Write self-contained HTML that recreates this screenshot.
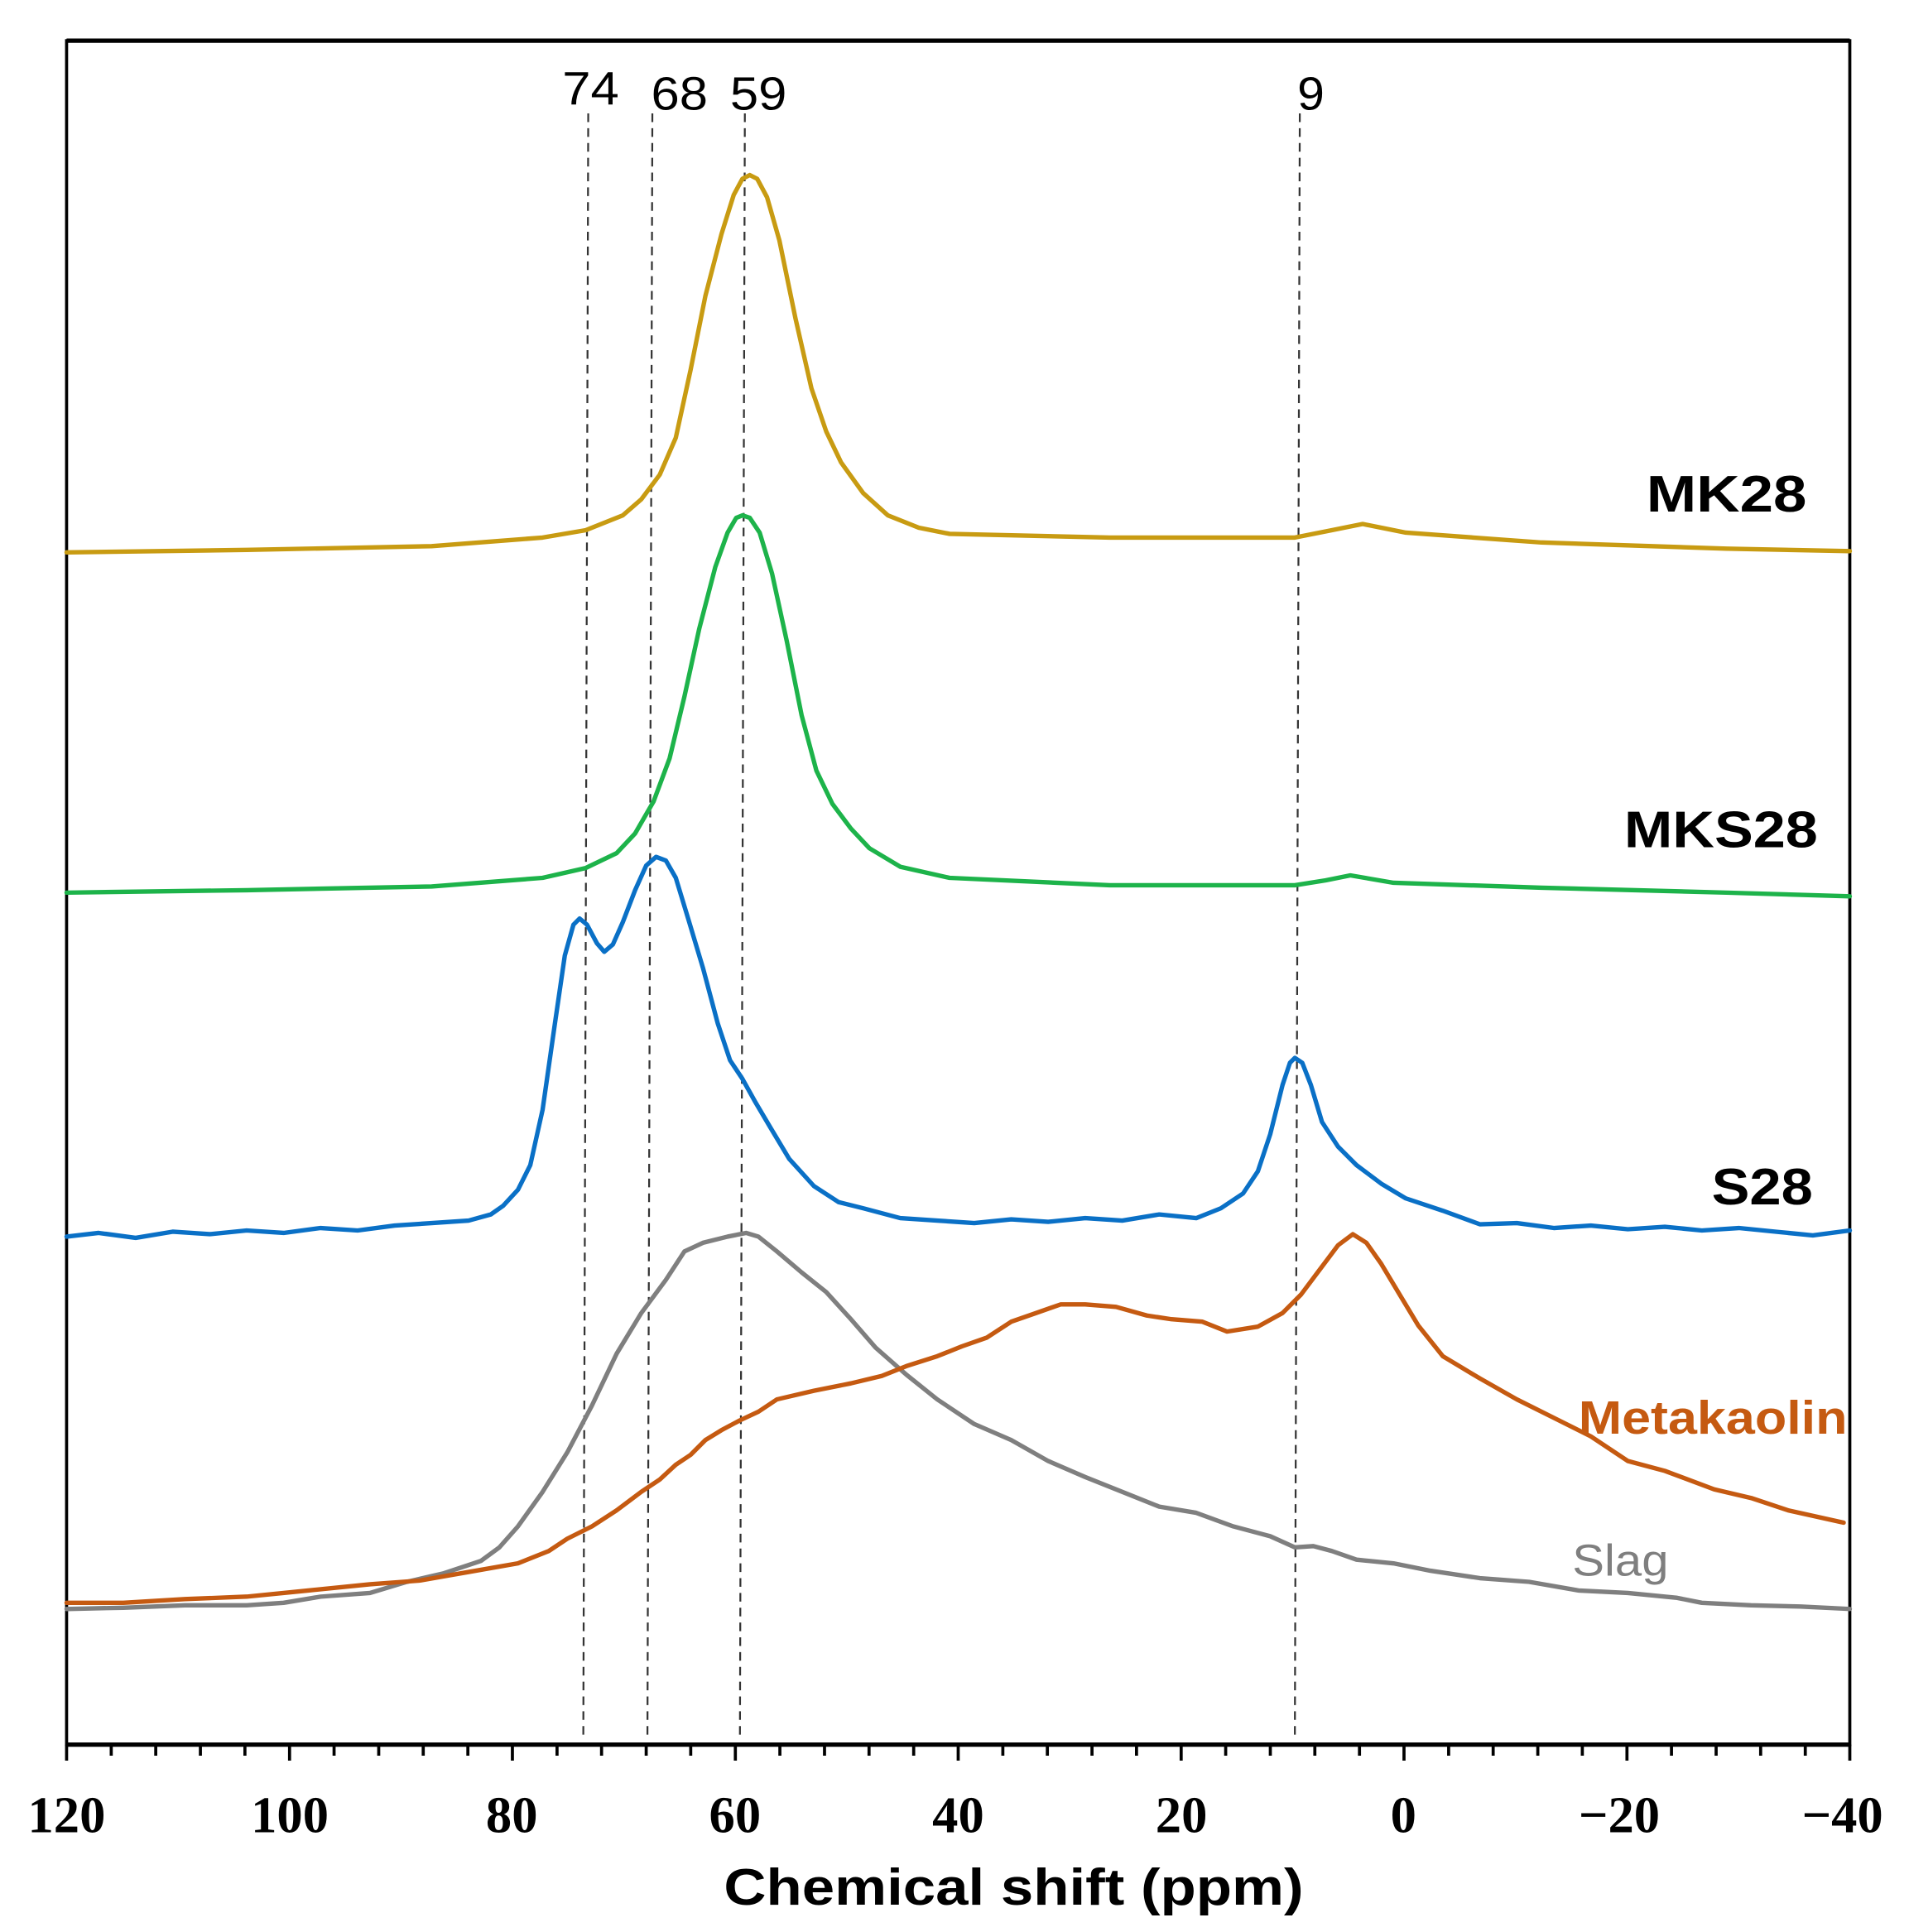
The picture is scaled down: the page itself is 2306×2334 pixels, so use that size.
<!DOCTYPE html>
<html><head><meta charset="utf-8"><style>
html,body{margin:0;padding:0;background:#fff;}
svg{display:block;}
</style></head><body>
<svg width="2306" height="2334" viewBox="0 0 1548 1567" preserveAspectRatio="none" xmlns="http://www.w3.org/2000/svg">
<rect x="0" y="0" width="1548" height="1567" fill="#fff"/>
<rect x="54" y="33" width="1446" height="1382" fill="none" stroke="#000" stroke-width="2.5"/>
<line x1="54" y1="33" x2="1500" y2="33" stroke="#000" stroke-width="3.5"/>
<line x1="54" y1="1415" x2="1500" y2="1415" stroke="#000" stroke-width="3.5"/>
<g stroke="#000" stroke-width="2.5">
<line x1="54" y1="1415" x2="54" y2="1428"/><line x1="90.2" y1="1415" x2="90.2" y2="1424"/><line x1="126.3" y1="1415" x2="126.3" y2="1424"/><line x1="162.5" y1="1415" x2="162.5" y2="1424"/><line x1="198.6" y1="1415" x2="198.6" y2="1424"/>
<line x1="234.8" y1="1415" x2="234.8" y2="1428"/><line x1="270.9" y1="1415" x2="270.9" y2="1424"/><line x1="307.1" y1="1415" x2="307.1" y2="1424"/><line x1="343.2" y1="1415" x2="343.2" y2="1424"/><line x1="379.4" y1="1415" x2="379.4" y2="1424"/>
<line x1="415.5" y1="1415" x2="415.5" y2="1428"/><line x1="451.7" y1="1415" x2="451.7" y2="1424"/><line x1="487.8" y1="1415" x2="487.8" y2="1424"/><line x1="524" y1="1415" x2="524" y2="1424"/><line x1="560.1" y1="1415" x2="560.1" y2="1424"/>
<line x1="596.3" y1="1415" x2="596.3" y2="1428"/><line x1="632.4" y1="1415" x2="632.4" y2="1424"/><line x1="668.6" y1="1415" x2="668.6" y2="1424"/><line x1="704.7" y1="1415" x2="704.7" y2="1424"/><line x1="740.9" y1="1415" x2="740.9" y2="1424"/>
<line x1="777" y1="1415" x2="777" y2="1428"/><line x1="813.2" y1="1415" x2="813.2" y2="1424"/><line x1="849.3" y1="1415" x2="849.3" y2="1424"/><line x1="885.5" y1="1415" x2="885.5" y2="1424"/><line x1="921.6" y1="1415" x2="921.6" y2="1424"/>
<line x1="957.8" y1="1415" x2="957.8" y2="1428"/><line x1="993.9" y1="1415" x2="993.9" y2="1424"/><line x1="1030.1" y1="1415" x2="1030.1" y2="1424"/><line x1="1066.2" y1="1415" x2="1066.2" y2="1424"/><line x1="1102.4" y1="1415" x2="1102.4" y2="1424"/>
<line x1="1138.5" y1="1415" x2="1138.5" y2="1428"/><line x1="1174.7" y1="1415" x2="1174.7" y2="1424"/><line x1="1210.8" y1="1415" x2="1210.8" y2="1424"/><line x1="1247" y1="1415" x2="1247" y2="1424"/><line x1="1283.1" y1="1415" x2="1283.1" y2="1424"/>
<line x1="1319.3" y1="1415" x2="1319.3" y2="1428"/><line x1="1355.4" y1="1415" x2="1355.4" y2="1424"/><line x1="1391.6" y1="1415" x2="1391.6" y2="1424"/><line x1="1427.7" y1="1415" x2="1427.7" y2="1424"/><line x1="1463.9" y1="1415" x2="1463.9" y2="1424"/>
<line x1="1500" y1="1415" x2="1500" y2="1428"/>
</g>
<g font-family="Liberation Serif, serif" font-weight="bold" font-size="42" text-anchor="middle">
<text x="54" y="1486">120</text><text x="235" y="1486">100</text><text x="415" y="1486">80</text><text x="596" y="1486">60</text><text x="777" y="1486">40</text><text x="958" y="1486">20</text><text x="1138" y="1486">0</text><text x="1313" y="1486">−20</text><text x="1494" y="1486">−40</text>
</g>
<text x="822" y="1545" font-family="Liberation Sans, sans-serif" font-weight="bold" font-size="42" text-anchor="middle" textLength="470" lengthAdjust="spacingAndGlyphs">Chemical shift (ppm)</text>
<g stroke="#333" stroke-width="1.5" stroke-dasharray="7,5">
<line x1="477" y1="92" x2="473" y2="1410"/><line x1="529" y1="92" x2="525" y2="1410"/><line x1="604" y1="92" x2="600" y2="1410"/><line x1="1054" y1="92" x2="1050" y2="1410"/>
</g>
<g font-family="Liberation Sans, sans-serif" font-size="38" text-anchor="middle">
<text x="479" y="85" textLength="46" lengthAdjust="spacingAndGlyphs">74</text><text x="551" y="89" textLength="46" lengthAdjust="spacingAndGlyphs">68</text><text x="615" y="89" textLength="46" lengthAdjust="spacingAndGlyphs">59</text><text x="1063" y="89" textLength="22" lengthAdjust="spacingAndGlyphs">9</text>
</g>
<g fill="none" stroke-width="3.6" stroke-linejoin="round" stroke-linecap="round">
<polyline stroke="#C89B12" points="54,448 200,446 350,443 440,436 475,430 505,418 520,405 535,385 548,355 560,300 572,240 585,190 595,158 602,145 608,142 614,145 622,160 632,195 645,258 658,315 670,350 682,375 700,400 720,418 745,428 770,433 900,436 1050,436 1080,430 1105,425 1140,432 1250,440 1400,445 1500,447"/>
<polyline stroke="#1DB34A" points="54,724 200,722 350,719 440,712 475,704 500,692 515,676 530,650 543,615 555,565 567,510 580,460 590,432 597,420 602,418 608,420 616,432 626,465 638,520 650,580 662,625 675,652 690,672 705,688 730,703 770,712 900,718 1050,718 1075,714 1095,710 1130,716 1250,720 1400,724 1500,727"/>
<polyline stroke="#0A70C6" points="54,1003 80,1000 110,1004 140,999 170,1001 200,998 230,1000 260,996 290,998 320,994 350,992 380,990 398,985 408,978 420,965 430,945 440,900 450,830 458,775 465,750 470,745 476,750 484,765 490,772 497,766 505,748 515,722 524,702 532,695 540,698 548,712 558,745 570,785 582,830 592,860 602,875 612,893 625,915 640,940 660,962 680,975 700,980 730,988 760,990 790,992 820,989 850,991 880,988 910,990 940,985 970,988 990,980 1008,968 1020,950 1030,920 1040,880 1046,862 1050,858 1056,862 1063,880 1072,910 1085,930 1100,945 1120,960 1140,972 1170,982 1200,993 1230,992 1260,996 1290,994 1320,997 1350,995 1380,998 1410,996 1440,999 1470,1002 1500,998"/>
<polyline stroke="#7F7F7F" points="54,1305 100,1304 150,1302 200,1302 230,1300 260,1295 300,1292 330,1283 360,1276 390,1266 405,1255 420,1238 440,1210 460,1178 480,1140 500,1098 520,1065 540,1038 555,1015 570,1008 590,1003 605,1000 615,1003 630,1015 650,1032 670,1048 690,1070 710,1093 735,1115 760,1135 790,1155 820,1168 850,1185 880,1198 910,1210 940,1222 970,1227 1000,1238 1030,1246 1050,1255 1065,1254 1080,1258 1100,1265 1130,1268 1160,1274 1200,1280 1240,1283 1280,1290 1320,1292 1360,1296 1380,1300 1420,1302 1460,1303 1500,1305"/>
<polyline stroke="#C55A11" points="54,1300 100,1300 150,1297 200,1295 250,1290 300,1285 340,1282 380,1275 420,1268 445,1258 460,1248 480,1238 500,1225 520,1210 535,1200 548,1188 560,1180 572,1168 585,1160 600,1152 615,1145 630,1135 660,1128 690,1122 715,1116 735,1108 760,1100 780,1092 800,1085 820,1072 840,1065 860,1058 880,1058 905,1060 930,1067 950,1070 975,1072 995,1080 1020,1076 1040,1065 1055,1050 1070,1030 1085,1010 1097,1001 1108,1008 1120,1025 1135,1050 1150,1075 1170,1100 1200,1118 1230,1135 1260,1150 1290,1165 1320,1185 1350,1193 1390,1208 1420,1215 1450,1225 1495,1235"/>
</g>
<g font-family="Liberation Sans, sans-serif" font-weight="bold" text-anchor="end">
<text x="1465" y="415" font-size="42" textLength="130" lengthAdjust="spacingAndGlyphs">MK28</text>
<text x="1474" y="687" font-size="42" textLength="157" lengthAdjust="spacingAndGlyphs">MKS28</text>
<text x="1470" y="977" font-size="42" textLength="82" lengthAdjust="spacingAndGlyphs">S28</text>
<text x="1498" y="1163" font-size="38" fill="#C55A11" textLength="218" lengthAdjust="spacingAndGlyphs">Metakaolin</text>
</g>
<text x="1353" y="1278" font-family="Liberation Sans, sans-serif" font-size="36" fill="#7F7F7F" text-anchor="end" textLength="78" lengthAdjust="spacingAndGlyphs">Slag</text>
</svg>
</body></html>
